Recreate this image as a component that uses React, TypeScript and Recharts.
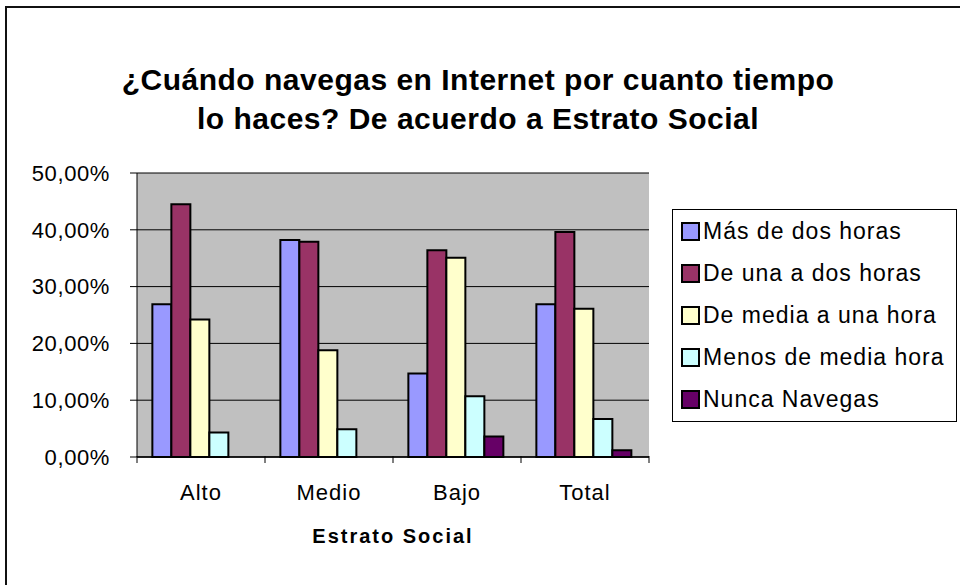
import { BarChart, Bar, XAxis, YAxis, CartesianGrid, Legend } from "recharts";

const CATEGORIES = ["Alto", "Medio", "Bajo", "Total"];
const MAS_DE_DOS = [26.9, 38.2, 14.7, 26.9];
const UNA_A_DOS = [44.5, 37.9, 36.4, 39.6];
const MEDIA_A_UNA = [24.2, 18.8, 35.1, 26.1];
const MENOS_MEDIA = [4.3, 4.9, 10.7, 6.7];
const NUNCA = [0, 0, 3.6, 1.2];
const Y_TICKS = [0, 10, 20, 30, 40, 50];

const SERIES = [
  { key: "mas", label: "Más de dos horas", color: "#9999FF", values: MAS_DE_DOS },
  { key: "una", label: "De una a dos horas", color: "#993366", values: UNA_A_DOS },
  { key: "media", label: "De media a una hora", color: "#FFFFCC", values: MEDIA_A_UNA },
  { key: "menos", label: "Menos de media hora", color: "#CCFFFF", values: MENOS_MEDIA },
  { key: "nunca", label: "Nunca Navegas", color: "#660066", values: NUNCA },
];

const data = CATEGORIES.map((c, i) => {
  const row: Record<string, string | number> = { name: c };
  SERIES.forEach((s) => (row[s.key] = s.values[i]));
  return row;
});

const FONT = "Arial, 'Liberation Sans', sans-serif";

const fmtPct = (v: number) => `${v.toFixed(2).replace(".", ",")}%`;

function CategoryTick(props: any) {
  const { x, y, payload, index } = props;
  const half = payload?.offset || 64;
  const top = y - 9;
  return (
    <g>
      <line x1={x - half} x2={x - half} y1={top} y2={top + 7} stroke="#000" />
      {index === CATEGORIES.length - 1 && (
        <line x1={x + half} x2={x + half} y1={top} y2={top + 7} stroke="#000" />
      )}
      <text
        x={x}
        y={y + 35}
        textAnchor="middle"
        fontSize={22}
        fontFamily={FONT}
        letterSpacing={1}
        fill="#000"
      >
        {payload.value}
      </text>
    </g>
  );
}

function LegendBox(props: any) {
  const order = SERIES.map((s) => s.label);
  const items = [...(props.payload || [])].sort(
    (a: any, b: any) => order.indexOf(a.value) - order.indexOf(b.value)
  );
  return (
    <div
      style={{
        border: "1px solid #000",
        background: "#fff",
        width: 285,
        height: 213,
        boxSizing: "border-box",
        fontFamily: FONT,
      }}
    >
      {items.map((it: any) => (
        <div
          key={it.value}
          style={{ height: 42.2, display: "flex", alignItems: "center", paddingLeft: 8 }}
        >
          <span
            style={{
              display: "inline-block",
              width: 15,
              height: 15,
              background: it.color,
              border: "2px solid #000",
              marginRight: 3,
              flexShrink: 0,
            }}
          />
          <span style={{ fontSize: 23, letterSpacing: 1, color: "#000", whiteSpace: "nowrap" }}>
            {it.value}
          </span>
        </div>
      ))}
    </div>
  );
}

export default function App() {
  return (
    <div
      style={{
        position: "absolute",
        left: 0,
        top: 0,
        width: 960,
        height: 585,
        background: "#fff",
        overflow: "hidden",
      }}
    >
      <div
        style={{
          position: "absolute",
          left: 5,
          top: 6,
          width: 1000,
          height: 700,
          borderLeft: "2px solid #111",
          borderTop: "2px solid #111",
        }}
      />
      <div
        style={{
          position: "absolute",
          left: 0,
          top: 60,
          width: 956,
          textAlign: "center",
          fontFamily: FONT,
          fontWeight: "bold",
          fontSize: 30,
          letterSpacing: 0.5,
          lineHeight: "39px",
          color: "#000",
        }}
      >
        ¿Cuándo navegas en Internet por cuanto tiempo
        <br />
        lo haces? De acuerdo a Estrato Social
      </div>
      <div style={{ position: "absolute", left: 0, top: 0 }}>
        <BarChart
          width={960}
          height={585}
          data={data}
          margin={{ top: 173, right: 311, bottom: 0, left: 0 }}
          barCategoryGap="12%"
          barGap={0}
        >
          <CartesianGrid vertical={false} stroke="#000" fill="#C0C0C0" fillOpacity={1} />
          <XAxis
            dataKey="name"
            height={128}
            axisLine={{ stroke: "#000", strokeWidth: 1.5 }}
            tickLine={false}
            tick={<CategoryTick />}
            interval={0}
            label={(p: any) => {
              const vb = p.viewBox || {};
              return (
                <text
                  x={vb.x + vb.width / 2}
                  y={vb.y + 86}
                  textAnchor="middle"
                  fontSize={20}
                  fontWeight="bold"
                  fontFamily={FONT}
                  letterSpacing={2}
                  fill="#000"
                >
                  Estrato Social
                </text>
              );
            }}
          />
          <XAxis
            xAxisId="top"
            dataKey="name"
            orientation="top"
            height={0}
            tick={false}
            tickLine={false}
            axisLine={{ stroke: "#808080", strokeWidth: 2 }}
          />
          <YAxis
            width={137}
            domain={[0, 50]}
            ticks={Y_TICKS}
            tickFormatter={fmtPct}
            tickSize={7}
            tickMargin={20}
            tickLine={{ stroke: "#000" }}
            axisLine={{ stroke: "#000" }}
            tick={{ fontSize: 22, fill: "#000", fontFamily: FONT, letterSpacing: 0.6 }}
            interval={0}
          />
          <YAxis
            yAxisId="right"
            orientation="right"
            width={0}
            domain={[0, 50]}
            tick={false}
            tickLine={false}
            axisLine={{ stroke: "#808080", strokeWidth: 2 }}
          />
          <Legend
            layout="vertical"
            align="center"
            verticalAlign="middle"
            content={<LegendBox />}
            wrapperStyle={{ position: "absolute", left: 672, top: 209, width: 285, height: 213 }}
          />
          {SERIES.map((s) => (
            <Bar
              key={s.key}
              dataKey={s.key}
              name={s.label}
              fill={s.color}
              stroke="#000"
              strokeWidth={2}
              isAnimationActive={false}
            />
          ))}
        </BarChart>
      </div>
    </div>
  );
}
